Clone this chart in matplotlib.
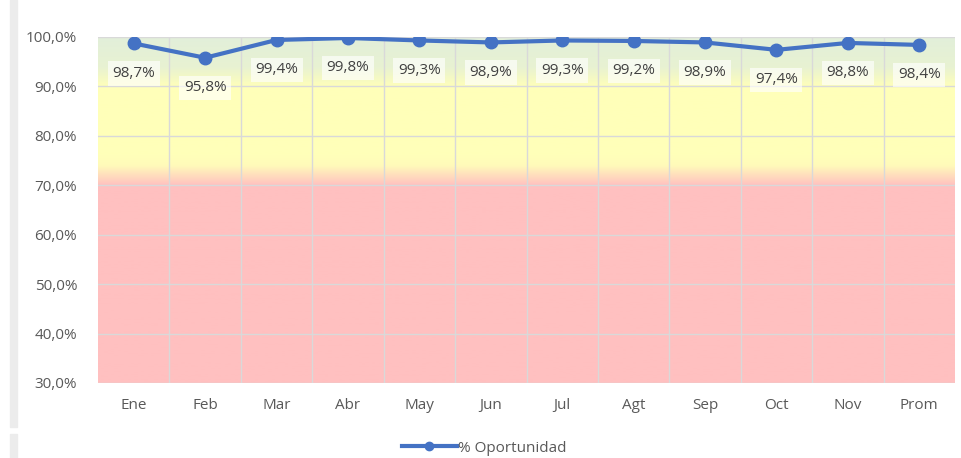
import numpy as np
import matplotlib
matplotlib.use("Agg")
import matplotlib.pyplot as plt
from matplotlib.patches import Rectangle
from matplotlib.lines import Line2D

categories = ["Ene", "Feb", "Mar", "Abr", "May", "Jun", "Jul", "Agt", "Sep", "Oct", "Nov", "Prom"]
values = [98.7, 95.8, 99.4, 99.8, 99.3, 98.9, 99.3, 99.2, 98.9, 97.4, 98.8, 98.4]
labels = ["98,7%", "95,8%", "99,4%", "99,8%", "99,3%", "98,9%", "99,3%", "99,2%", "98,9%", "97,4%", "98,8%", "98,4%"]
yticks = [30, 40, 50, 60, 70, 80, 90, 100]
series_name = "% Oportunidad"

plt.rcParams['font.family'] = ['Open Sans', 'DejaVu Sans']
txt = '#595959'
line_c = '#4472C4'

fig = plt.figure(figsize=(9.61, 4.58), dpi=100)
# left border strips
fig.patches.append(Rectangle((10/961, 31/458), 7/961, 1-31/458, transform=fig.transFigure, color='#ececec', zorder=0))
fig.patches.append(Rectangle((10/961, 0), 7/961, 24/458, transform=fig.transFigure, color='#ececec', zorder=0))

ax = fig.add_axes([98/961, 75/458, 857/961, 346/458])
n = len(categories)
ax.set_xlim(0, n)
ax.set_ylim(30, 100)

# gradient background
stops = [(30, (255, 192, 192)), (70, (255, 192, 192)), (74, (255, 250, 186)),
         (76, (255, 255, 185)), (90, (255, 255, 185)), (94, (232, 242, 210)), (100, (226, 239, 218))]
ys = np.linspace(30, 100, 400)
sv = [s[0] for s in stops]
cols = np.array([s[1] for s in stops]) / 255.0
img = np.stack([np.interp(ys, sv, cols[:, k]) for k in range(3)], axis=-1)
img = img[:, None, :]
ax.imshow(img, extent=[0, n, 30, 100], origin='lower', aspect='auto', zorder=0)

for x in range(1, n):
    ax.axvline(x, color='#d9d9d9', lw=1, zorder=1)
for y in yticks:
    ax.axhline(y, color='#d9d9d9', lw=1, zorder=1)

xs = np.arange(n) + 0.5
ax.plot(xs, values, color=line_c, lw=3, marker='o', ms=9, zorder=3, solid_capstyle='round')
for x, v, l in zip(xs, values, labels):
    ax.annotate(l, (x, v), xytext=(0, -30), textcoords='offset pixels', ha='center', va='center',
                fontsize=11, color='#404040', zorder=4,
                bbox=dict(boxstyle='square,pad=0.3', fc='white', ec='none', alpha=0.65))

for s in ax.spines.values():
    s.set_visible(False)
ax.set_xticks(xs)
ax.set_xticklabels(categories, fontsize=11, color=txt)
ax.set_yticks(yticks)
ax.set_yticklabels([f"{y},0%" for y in yticks], fontsize=11, color=txt)
ax.tick_params(axis='x', length=0, pad=11)
ax.tick_params(axis='y', length=0, pad=15)

h = Line2D([], [], color=line_c, lw=3, marker='o', ms=6)
fig.legend([h], [series_name], loc='center', bbox_to_anchor=(484/961, 1 - 448/458), frameon=False,
           fontsize=11, labelcolor=txt, handlelength=3.6, handletextpad=0.05)

fig.savefig('out.png', dpi=100)
